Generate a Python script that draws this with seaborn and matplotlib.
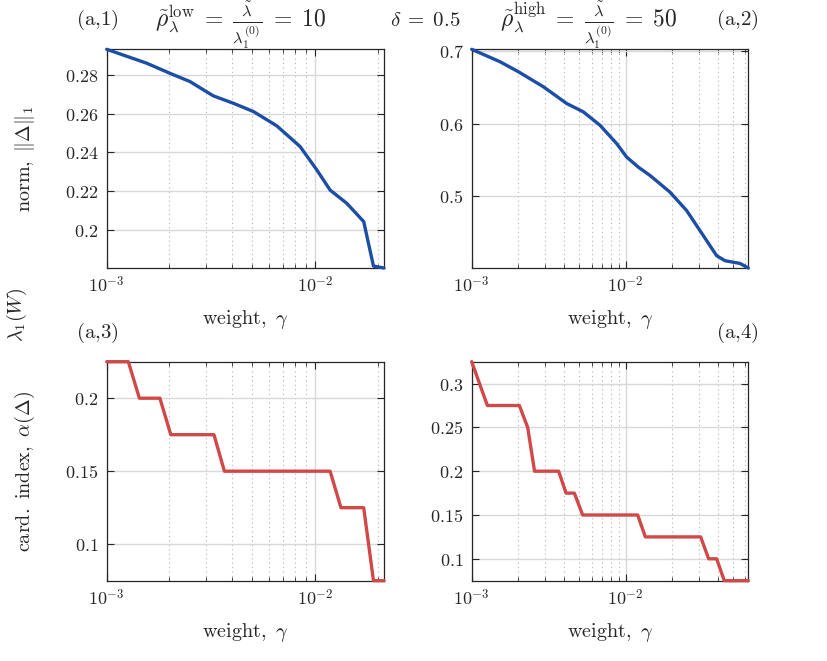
import numpy as np
import pandas as pd
import matplotlib
matplotlib.use("Agg")
import matplotlib.pyplot as plt
import matplotlib.ticker as mticker
import seaborn as sns

# ---- data ----
gamma_norm_low = [1.0e-3, 1.556e-3, 2.01e-3, 2.51e-3, 3.25e-3, 4.05e-3, 5.06e-3, 6.55e-3,
                  8.47e-3, 1.019e-2, 1.18e-2, 1.42e-2, 1.71e-2, 1.905e-2, 2.14e-2]
norm_low = [0.2933, 0.2861, 0.2809, 0.2766, 0.2692, 0.2654, 0.2611, 0.2537,
            0.2430, 0.2309, 0.2205, 0.2136, 0.2042, 0.1812, 0.1802]

gamma_norm_high = [1.0e-3, 1.526e-3, 2.01e-3, 2.92e-3, 4.14e-3, 5.31e-3, 6.81e-3, 8.75e-3,
                   1.014e-2, 1.208e-2, 1.439e-2, 1.94e-2, 2.49e-2, 3.36e-2, 3.9e-2,
                   4.42e-2, 5.53e-2, 6.26e-2]
norm_high = [0.7023, 0.6852, 0.6714, 0.6507, 0.6276, 0.6161, 0.5977, 0.5723,
             0.5539, 0.5400, 0.5285, 0.5055, 0.4801, 0.4386, 0.4179,
             0.4110, 0.4073, 0.4010]

gamma_card_low = [1.0e-3, 1.27e-3, 1.435e-3, 1.80e-3, 2.03e-3, 3.27e-3, 3.67e-3,
                  1.18e-2, 1.33e-2, 1.71e-2, 1.905e-2, 2.14e-2]
card_low = [0.225, 0.225, 0.2, 0.2, 0.175, 0.175, 0.15,
            0.15, 0.125, 0.125, 0.075, 0.075]

gamma_card_high = [1.0e-3, 1.264e-3, 2.04e-3, 2.31e-3, 2.56e-3, 3.67e-3, 4.10e-3, 4.64e-3,
                   5.26e-3, 1.197e-2, 1.342e-2, 3.07e-2, 3.46e-2, 3.90e-2, 4.37e-2, 6.26e-2]
card_high = [0.325, 0.275, 0.275, 0.25, 0.2, 0.2, 0.175, 0.175,
             0.15, 0.15, 0.125, 0.125, 0.1, 0.1, 0.075, 0.075]

yticks_a1 = [0.2, 0.22, 0.24, 0.26, 0.28]
yticks_a2 = [0.5, 0.6, 0.7]
yticks_a3 = [0.1, 0.15, 0.2]
yticks_a4 = [0.1, 0.15, 0.2, 0.25, 0.3]
xticks = [1e-3, 1e-2]

BLUE = "#1c4ea6"
RED = "#d14848"

sns.set_theme(style="white")
plt.rcParams["mathtext.fontset"] = "cm"
plt.rcParams["font.family"] = ["DejaVu Serif"]

W, H = 828, 661
fig = plt.figure(figsize=(W / 100, H / 100), dpi=100)


def rect(l, r, t, b):
    return [l / W, 1 - b / H, (r - l) / W, (b - t) / H]


ax1 = fig.add_axes(rect(106.7, 384, 49.3, 268))
ax2 = fig.add_axes(rect(471.7, 748.3, 49.3, 268))
ax3 = fig.add_axes(rect(106.7, 384, 361.7, 580.7))
ax4 = fig.add_axes(rect(471.7, 748.3, 361.7, 580.7))

FS = 13


def mt(v):
    return r"$%s$" % ("%g" % v)


def style(ax, x, y, color, yticks, xlim, ylim):
    df = pd.DataFrame({"x": x, "y": y})
    sns.lineplot(data=df, x="x", y="y", ax=ax, color=color, lw=2.4,
                 sort=False, estimator=None, clip_on=False, zorder=5)
    ax.set_xscale("log")
    ax.set_xlim(*xlim)
    ax.set_ylim(*ylim)
    ax.set_xticks(xticks)
    ax.set_xticklabels([r"$10^{-3}$", r"$10^{-2}$"], fontsize=FS)
    ax.xaxis.set_minor_locator(mticker.LogLocator(base=10, subs=np.arange(2, 10)))
    ax.xaxis.set_minor_formatter(mticker.NullFormatter())
    ax.set_yticks(yticks)
    ax.set_yticklabels([mt(v) for v in yticks], fontsize=FS)
    ax.grid(True, which="major", color="#d8d8d8", lw=1.0, ls="-")
    ax.grid(True, which="minor", axis="x", color="#b4b4b4", lw=0.8, ls=(0, (1, 3)))
    ax.set_axisbelow(True)
    ax.tick_params(which="both", direction="in", top=True, right=True,
                   bottom=True, left=True, color="#262626")
    ax.tick_params(which="major", length=5, width=0.8, pad=6)
    ax.tick_params(which="minor", length=3, width=0.6)
    for sp in ax.spines.values():
        sp.set_color("#262626")
        sp.set_linewidth(0.9)
        sp.set_zorder(2)
    ax.set_xlabel(r"$\mathrm{weight},\ \gamma$", fontsize=FS + 1.5, labelpad=8)
    ax.set_ylabel("")


style(ax1, gamma_norm_low, norm_low, BLUE, yticks_a1, (1e-3, 2.14e-2), (0.1802, 0.2933))
style(ax2, gamma_norm_high, norm_high, BLUE, yticks_a2, (1e-3, 6.26e-2), (0.4010, 0.7023))
style(ax3, gamma_card_low, card_low, RED, yticks_a3, (1e-3, 2.14e-2), (0.075, 0.225))
style(ax4, gamma_card_high, card_high, RED, yticks_a4, (1e-3, 6.26e-2), (0.075, 0.325))

ax1.set_ylabel(r"$\mathrm{norm},\ \|\Delta\|_1$", fontsize=FS + 1.5)
ax3.set_ylabel(r"$\mathrm{card.\ index},\ \alpha(\Delta)$", fontsize=FS + 1.5)
ax1.yaxis.set_label_coords((37 - 106.7) / (384 - 106.7), 0.5)
ax3.yaxis.set_label_coords((37 - 106.7) / (384 - 106.7), 0.5)

fig.text(17 / W, 1 - 315 / H, r"$\lambda_1(W)$", rotation=90, fontsize=FS + 1.5,
         ha="center", va="center")

HF = 15
fig.text(97 / W, 1 - 20 / H, r"$\mathrm{(a{,}1)}$", fontsize=HF, ha="center", va="center")
fig.text(737 / W, 1 - 20 / H, r"$\mathrm{(a{,}2)}$", fontsize=HF, ha="center", va="center")
fig.text(97 / W, 1 - 333 / H, r"$\mathrm{(a{,}3)}$", fontsize=HF, ha="center", va="center")
fig.text(737 / W, 1 - 333 / H, r"$\mathrm{(a{,}4)}$", fontsize=HF, ha="center", va="center")
fig.text(425 / W, 1 - 20 / H, r"$\delta\;=\;0.5$", fontsize=HF, ha="center", va="center")
fig.text(240 / W, 1 - 25 / H,
         r"$\tilde{\rho}_{\lambda}^{\mathrm{low}}\;=\;\frac{\tilde{\lambda}}{\lambda_1^{(0)}}\;=\;10$",
         fontsize=17, ha="center", va="center")
fig.text(589 / W, 1 - 25 / H,
         r"$\tilde{\rho}_{\lambda}^{\mathrm{high}}\;=\;\frac{\tilde{\lambda}}{\lambda_1^{(0)}}\;=\;50$",
         fontsize=17, ha="center", va="center")

fig.savefig("out.png", dpi=100, facecolor="white")
